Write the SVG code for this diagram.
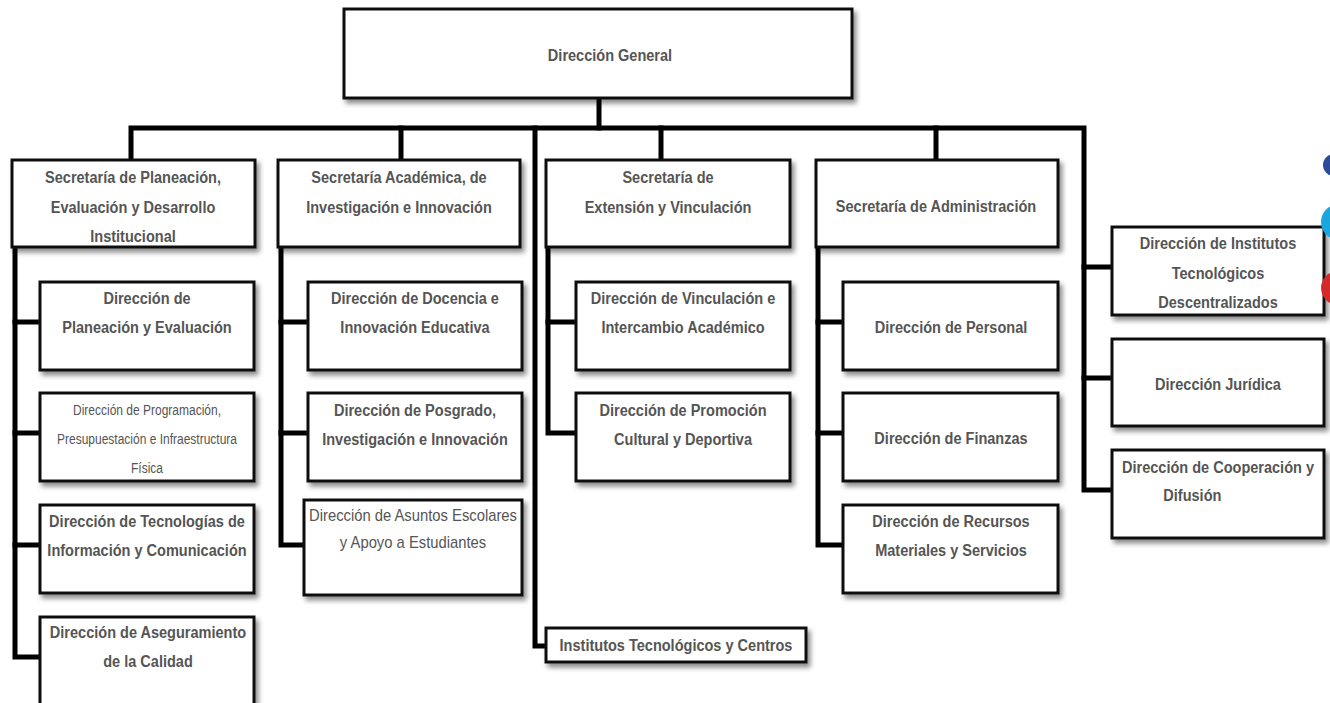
<svg xmlns="http://www.w3.org/2000/svg" width="1330" height="703" viewBox="0 0 1330 703">
  <defs>
    <filter id="shadow" x="-10%" y="-20%" width="125%" height="150%">
      <feDropShadow dx="3" dy="4" stdDeviation="2.5" flood-color="#000" flood-opacity="0.45"/>
    </filter>
    <style>
      .box { fill: #fff; stroke: #111; stroke-width: 3; filter: url(#shadow); }
      .wire { fill: none; stroke: #000; stroke-width: 5; stroke-linejoin: miter; stroke-linecap: square; }
      .t { font-family: "Liberation Sans", Arial, sans-serif; font-size: 17px; font-weight: bold; fill: #555; text-anchor: middle; }
      .t-light { font-family: "Liberation Sans", Arial, sans-serif; font-size: 17px; font-weight: normal; fill: #555; text-anchor: middle; }
      .t-small { font-family: "Liberation Sans", Arial, sans-serif; font-size: 15px; font-weight: normal; fill: #555; text-anchor: middle; }
    </style>
  </defs>
  <rect width="1330" height="703" fill="#fff"/>

  <!-- connectors -->
  <g id="connectors">
    <path class="wire" d="M599 98 V128"/>
    <path class="wire" d="M131 160 V128 H1084 V490 H1112"/>
    <path class="wire" d="M401 128 V160"/>
    <path class="wire" d="M535 128 V646 H546"/>
    <path class="wire" d="M661 128 V160"/>
    <path class="wire" d="M936 128 V160"/>
    <path class="wire" d="M1084 267 H1112"/>
    <path class="wire" d="M1084 378 H1112"/>
    <!-- column 1 -->
    <path class="wire" d="M15 247 V657 H40"/>
    <path class="wire" d="M15 322 H40"/>
    <path class="wire" d="M15 433 H40"/>
    <path class="wire" d="M15 545 H40"/>
    <!-- column 2 -->
    <path class="wire" d="M281 247 V545 H304"/>
    <path class="wire" d="M281 322 H308"/>
    <path class="wire" d="M281 433 H308"/>
    <!-- column 3 -->
    <path class="wire" d="M548 247 V433 H576"/>
    <path class="wire" d="M548 322 H576"/>
    <!-- column 4 -->
    <path class="wire" d="M818 247 V545 H843"/>
    <path class="wire" d="M818 322 H843"/>
    <path class="wire" d="M818 433 H843"/>
  </g>

  <!-- top -->
  <g id="direccion-general">
    <rect class="box" x="344" y="9" width="508" height="89"/>
    <g transform="translate(610 0) scale(0.855 1)"><text class="t" x="0" y="61">Dirección General</text></g>
  </g>

  <!-- secretarías -->
  <g id="sec-planeacion">
    <rect class="box" x="12" y="160" width="243" height="87"/>
    <g transform="translate(133 0) scale(0.855 1)">
      <text class="t" x="0" y="183">Secretaría de Planeación,</text>
      <text class="t" x="0" y="213">Evaluación y Desarrollo</text>
      <text class="t" x="0" y="242">Institucional</text>
    </g>
  </g>
  <g id="sec-academica">
    <rect class="box" x="278" y="160" width="242" height="87"/>
    <g transform="translate(399 0) scale(0.855 1)">
      <text class="t" x="0" y="183">Secretaría Académica, de</text>
      <text class="t" x="0" y="213">Investigación e Innovación</text>
    </g>
  </g>
  <g id="sec-extension">
    <rect class="box" x="546" y="160" width="244" height="87"/>
    <g transform="translate(668 0) scale(0.855 1)">
      <text class="t" x="0" y="183">Secretaría de</text>
      <text class="t" x="0" y="213">Extensión y Vinculación</text>
    </g>
  </g>
  <g id="sec-administracion">
    <rect class="box" x="816" y="160" width="242" height="87"/>
    <g transform="translate(936 0) scale(0.855 1)">
      <text class="t" x="0" y="212">Secretaría de Administración</text>
    </g>
  </g>

  <!-- column 1 -->
  <g id="dir-planeacion">
    <rect class="box" x="40" y="282" width="214" height="88"/>
    <g transform="translate(147 0) scale(0.855 1)">
      <text class="t" x="0" y="304">Dirección de</text>
      <text class="t" x="0" y="333">Planeación y Evaluación</text>
    </g>
  </g>
  <g id="dir-programacion">
    <rect class="box" x="40" y="393" width="214" height="88"/>
    <g transform="translate(147 0) scale(0.8 1)">
      <text class="t-small" x="0" y="415">Dirección de Programación,</text>
      <text class="t-small" x="0" y="444">Presupuestación e Infraestructura</text>
      <text class="t-small" x="0" y="473">Física</text>
    </g>
  </g>
  <g id="dir-tecnologias">
    <rect class="box" x="40" y="505" width="214" height="88"/>
    <g transform="translate(147 0) scale(0.855 1)">
      <text class="t" x="0" y="527">Dirección de Tecnologías de</text>
      <text class="t" x="0" y="556">Información y Comunicación</text>
    </g>
  </g>
  <g id="dir-aseguramiento">
    <rect class="box" x="40" y="617" width="214" height="95"/>
    <g transform="translate(148 0) scale(0.855 1)">
      <text class="t" x="0" y="638">Dirección de Aseguramiento</text>
      <text class="t" x="0" y="667">de la Calidad</text>
    </g>
  </g>

  <!-- column 2 -->
  <g id="dir-docencia">
    <rect class="box" x="308" y="282" width="214" height="88"/>
    <g transform="translate(415 0) scale(0.855 1)">
      <text class="t" x="0" y="304">Dirección de Docencia e</text>
      <text class="t" x="0" y="333">Innovación Educativa</text>
    </g>
  </g>
  <g id="dir-posgrado">
    <rect class="box" x="308" y="393" width="214" height="88"/>
    <g transform="translate(415 0) scale(0.855 1)">
      <text class="t" x="0" y="416">Dirección de Posgrado,</text>
      <text class="t" x="0" y="445">Investigación e Innovación</text>
    </g>
  </g>
  <g id="dir-asuntos">
    <rect class="box" x="304" y="500" width="218" height="95"/>
    <g transform="translate(413 0) scale(0.87 1)">
      <text class="t-light" x="0" y="521">Dirección de Asuntos Escolares</text>
      <text class="t-light" x="0" y="548">y Apoyo a Estudiantes</text>
    </g>
  </g>

  <!-- column 3 -->
  <g id="dir-vinculacion">
    <rect class="box" x="576" y="282" width="214" height="88"/>
    <g transform="translate(683 0) scale(0.855 1)">
      <text class="t" x="0" y="304">Dirección de Vinculación e</text>
      <text class="t" x="0" y="333">Intercambio Académico</text>
    </g>
  </g>
  <g id="dir-promocion">
    <rect class="box" x="576" y="393" width="214" height="88"/>
    <g transform="translate(683 0) scale(0.855 1)">
      <text class="t" x="0" y="416">Dirección de Promoción</text>
      <text class="t" x="0" y="445">Cultural y Deportiva</text>
    </g>
  </g>
  <g id="institutos-centros">
    <rect class="box" x="546" y="628" width="260" height="34"/>
    <g transform="translate(676 0) scale(0.855 1)">
      <text class="t" x="0" y="651">Institutos Tecnológicos y Centros</text>
    </g>
  </g>

  <!-- column 4 -->
  <g id="dir-personal">
    <rect class="box" x="843" y="282" width="215" height="88"/>
    <g transform="translate(951 0) scale(0.855 1)">
      <text class="t" x="0" y="333">Dirección de Personal</text>
    </g>
  </g>
  <g id="dir-finanzas">
    <rect class="box" x="843" y="393" width="215" height="88"/>
    <g transform="translate(951 0) scale(0.855 1)">
      <text class="t" x="0" y="444">Dirección de Finanzas</text>
    </g>
  </g>
  <g id="dir-recursos">
    <rect class="box" x="843" y="505" width="215" height="88"/>
    <g transform="translate(951 0) scale(0.855 1)">
      <text class="t" x="0" y="527">Dirección de Recursos</text>
      <text class="t" x="0" y="556">Materiales y Servicios</text>
    </g>
  </g>

  <!-- right column -->
  <g id="dir-institutos">
    <rect class="box" x="1112" y="227" width="212" height="88"/>
    <g transform="translate(1218 0) scale(0.855 1)">
      <text class="t" x="0" y="249">Dirección de Institutos</text>
      <text class="t" x="0" y="279">Tecnológicos</text>
      <text class="t" x="0" y="308">Descentralizados</text>
    </g>
  </g>
  <g id="dir-juridica">
    <rect class="box" x="1112" y="339" width="212" height="87"/>
    <g transform="translate(1218 0) scale(0.855 1)">
      <text class="t" x="0" y="390">Dirección Jurídica</text>
    </g>
  </g>
  <g id="dir-cooperacion">
    <rect class="box" x="1112" y="450" width="212" height="88"/>
    <g transform="translate(1218 0) scale(0.855 1)">
      <text class="t" x="0" y="473">Dirección de Cooperación y</text>
      <text class="t" x="-30" y="501">Difusión</text>
    </g>
  </g>

  <!-- partial round badges cut by the right edge -->
  <g id="badges">
    <circle cx="1334" cy="165" r="11" fill="#2b4a9a"/>
    <circle cx="1339" cy="222" r="18" fill="#1aa7e0"/>
    <circle cx="1338" cy="288" r="17" fill="#d42a2a"/>
  </g>
</svg>
